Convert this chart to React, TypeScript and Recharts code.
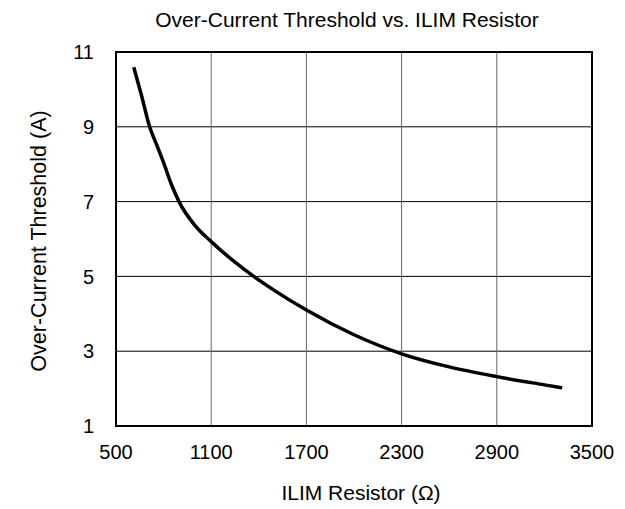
import React from "react";
import {
  LineChart,
  Line,
  XAxis,
  YAxis,
  CartesianGrid,
  ReferenceArea,
} from "recharts";

// values
const resistorOhms = [
  612, 660, 712, 760, 800, 850, 897, 1000, 1100, 1250, 1368, 1500, 1700, 2000,
  2300, 2600, 2900, 3200, 3312,
];
const thresholdAmps = [
  10.59, 9.85, 9.0, 8.48, 8.04, 7.45, 7.0, 6.35, 5.93, 5.38, 5.0, 4.62, 4.1,
  3.44, 2.93, 2.58, 2.32, 2.1, 2.02,
];
const xTicks = [500, 1100, 1700, 2300, 2900, 3500];
const yTicks = [1, 3, 5, 7, 9, 11];

const data = resistorOhms.map((r, i) => ({ r, a: thresholdAmps[i] }));

const FONT = "'Liberation Sans', Arial, Helvetica, sans-serif";

export default function App() {
  const tickStyle = { fill: "#000", fontSize: 20, fontFamily: FONT };

  return (
    <div
      style={{
        position: "absolute",
        left: 0,
        top: 0,
        width: 625,
        height: 509,
        background: "#fff",
      }}
    >
      <LineChart
        width={625}
        height={509}
        data={data}
        margin={{ top: 52, right: 33, left: 0, bottom: 0 }}
      >
        <CartesianGrid stroke="#000" strokeWidth={1} vertical={false} />
        <CartesianGrid stroke="#666" strokeWidth={1} horizontal={false} />
        <XAxis
          dataKey="r"
          type="number"
          domain={[500, 3500]}
          ticks={xTicks}
          height={83}
          tickLine={false}
          axisLine={false}
          tickMargin={13}
          tick={tickStyle}
          interval={0}
        />
        <YAxis
          type="number"
          domain={[1, 11]}
          ticks={yTicks}
          width={116}
          tickLine={false}
          axisLine={false}
          tickMargin={16}
          tick={tickStyle}
          interval={0}
        />
        <Line
          type="monotone"
          dataKey="a"
          stroke="#000"
          strokeWidth={3.5}
          dot={false}
          isAnimationActive={false}
        />
        <ReferenceArea
          x1={500}
          x2={3500}
          y1={1}
          y2={11}
          fill="none"
          fillOpacity={0}
          stroke="#000"
          strokeWidth={2}
        />
      </LineChart>

      {/* title and axis labels */}
      <svg
        width={625}
        height={509}
        style={{ position: "absolute", left: 0, top: 0, pointerEvents: "none" }}
      >
        <text
          x={347}
          y={27}
          textAnchor="middle"
          fontSize={21}
          fontFamily={FONT}
          fill="#000"
        >
          Over-Current Threshold vs. ILIM Resistor
        </text>
        <text
          x={361}
          y={500}
          textAnchor="middle"
          fontSize={21}
          fontFamily={FONT}
          fill="#000"
        >
          ILIM Resistor (Ω)
        </text>
        <text
          x={46}
          y={241}
          transform="rotate(-90 46 241)"
          textAnchor="middle"
          fontSize={21.5}
          fontFamily={FONT}
          fill="#000"
        >
          Over-Current Threshold (A)
        </text>
      </svg>
    </div>
  );
}
